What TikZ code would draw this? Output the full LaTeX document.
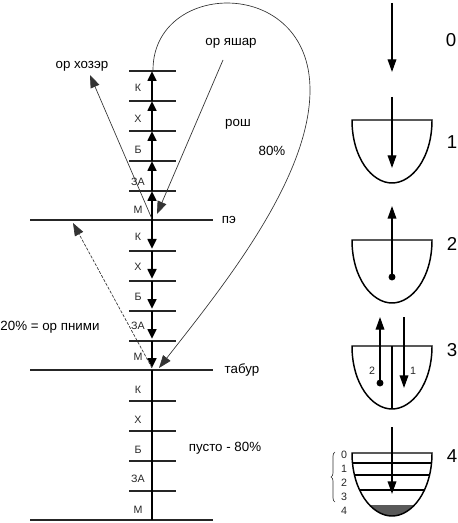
\documentclass[tikz,border=0pt]{standalone}
\usepackage{fontspec}
\setmainfont{Liberation Sans}
\usetikzlibrary{arrows.meta,decorations.pathreplacing}
\begin{document}
\begin{tikzpicture}[x=0.75pt,y=-0.75pt,
  thickln/.style={line width=2pt},
  rung/.style={line width=2pt, draw=black!85},
  thinln/.style={line width=0.5pt, draw=black!80},
  mainarrow/.style={-{Triangle[length=7.5pt,width=6.5pt]}},
  thinarrow/.style={-{Triangle[length=9.5pt,width=7pt]}},
  rarrow/.style={line width=1pt,-{Triangle[length=9.5pt,width=6.5pt]}},
  lbl/.style={font=\fontsize{10}{12}\selectfont, inner sep=0pt},
  small/.style={font=\fontsize{8}{9}\selectfont, inner sep=0pt, text=black!85},
  big/.style={font=\fontsize{14}{16}\selectfont, inner sep=0pt},
  bowl/.style={line width=1.1pt},
  bowlpic/.pic={\draw[bowl] (-40,0) .. controls (-40,38) and (-20,63) .. (0,63) .. controls (20,63) and (40,38) .. (40,0) -- cycle;}]
\useasboundingbox (0,0) rectangle (457,523);

% long horizontal lines
\foreach \y/\n in {220/pe,370/tab,520/bot}{
  \coordinate (\n L) at (30,\y); \coordinate (\n R) at (213,\y);
  \draw[rung] (\n L) -- (\n R);
  \coordinate (m\y) at (152,\y);}
% rungs
\foreach \y in {71,101,131,161,191,251,281,311,341,401,431,461,491}{
  \coordinate (rl\y) at (129,\y); \coordinate (rr\y) at (176,\y);
  \draw[rung] (rl\y) -- (rr\y);
  \coordinate (m\y) at (152,\y);}

% main vertical line
\foreach \a/\b in {220/191,191/161,161/131,131/101,101/71}
  \draw[thickln,mainarrow] (m\a) -- (m\b);
\foreach \a/\b in {220/251,251/281,281/311,311/341,341/370}
  \draw[thickln,mainarrow,shorten >=1.5pt] (m\a) -- (m\b);
\draw[thickln] (m370) -- (m520);

% rung labels
\foreach \y/\t [count=\i] in {88/К,119/Х,150/Б,182/ЗА,210/М,237/К,267/Х,297/Б,326/ЗА,357/М,390/К,420/Х,450/Б,479/ЗА,510/М}
  \node[small] (rl-\i) at (138,\y) {\t};

% text labels
\node[lbl] (hozer) at (82,66) {ор хозэр};
\node[lbl] (yashar) at (231,43) {ор яшар};
\node[lbl] (rosh) at (238,124) {рош};
\node[lbl] (p80) at (272,151) {80\%};
\node[lbl] (pe) at (229,220) {пэ};
\node[lbl] (tabur) at (242,370) {табур};
\node[lbl] (pusto) at (225,448) {пусто - 80\%};
\node[lbl] (pnimi) at (50,327) {20\% = ор пними};

% diagonals
\coordinate (hozS) at (152,219);
\coordinate (hozT) at (90,75);
\draw[thinln,thinarrow] (hozS) -- (hozT);
\coordinate (yaS) at (223,60);
\coordinate (yaT) at (157,214);
\draw[thinln,thinarrow] (yaS) -- (yaT);
\coordinate (pnS) at (152,368);
\coordinate (pnT) at (73,223);
\draw[thinln,thinarrow,dash pattern=on 2.25pt off 1.1pt] (pnS) -- (pnT);
\coordinate (cvS) at (153,70);
\coordinate (cvM) at (310,90);
\coordinate (cvT) at (159,368);
\draw[thinln,thinarrow] (cvS) .. controls (153,-20) and (310,-25) .. (cvM)
   .. controls (310,180) and (220,290) .. (cvT);

% right column
\coordinate (a0s) at (392,3); \coordinate (a0t) at (392,72);
\draw[rarrow] (a0s) -- (a0t);
\node[big] (d0) at (451,40) {0};

\pic at (392,120) {bowlpic};
\coordinate (a1s) at (392,97); \coordinate (a1t) at (392,168);
\draw[rarrow] (a1s) -- (a1t);
\node[big] (d1) at (452,142) {1};

\pic at (392,240) {bowlpic};
\coordinate (a2s) at (392,277); \coordinate (a2t) at (392,206);
\draw[rarrow] (a2s) -- (a2t);
\fill (a2s) circle (2.6pt);
\node[big] (d2) at (452,244) {2};

\pic at (392,346) {bowlpic};
\coordinate (a3ls) at (380,383); \coordinate (a3lt) at (380,317);
\draw[rarrow] (a3ls) -- (a3lt);
\fill (a3ls) circle (2.6pt);
\coordinate (a3ms) at (392,346); \coordinate (a3mt) at (392,409);
\draw[line width=1pt] (a3ms) -- (a3mt);
\coordinate (a3rs) at (404,317); \coordinate (a3rt) at (404,388);
\draw[rarrow] (a3rs) -- (a3rt);
\node[small] (n3a) at (372,371) {2};
\node[small] (n3b) at (413,371) {1};
\node[big] (d3) at (452,350) {3};

\begin{scope}
  \clip (352,453) .. controls (352,491) and (372,516) .. (392,516) .. controls (412,516) and (432,491) .. (432,453) -- cycle;
  \fill[black!65] (340,505) rectangle (445,520);
  \foreach \y in {463,475,490}
    \draw[line width=1.1pt] (340,\y) -- (445,\y);
\end{scope}
\pic at (392,453) {bowlpic};
\coordinate (a4s) at (392,427); \coordinate (a4t) at (392,494);
\draw[rarrow] (a4s) -- (a4t);
\node[big] (d4) at (452,456) {4};
\foreach \y/\t [count=\i] in {455/0,469/1,483/2,497/3,511/4}
  \node[small] (bl\i) at (344,\y) {\t};
\coordinate (brB) at (335,502); \coordinate (brT) at (335,452);
\draw[thinln,decorate,decoration={brace,amplitude=3pt}] (brB) -- (brT);
\end{tikzpicture}
\end{document}
